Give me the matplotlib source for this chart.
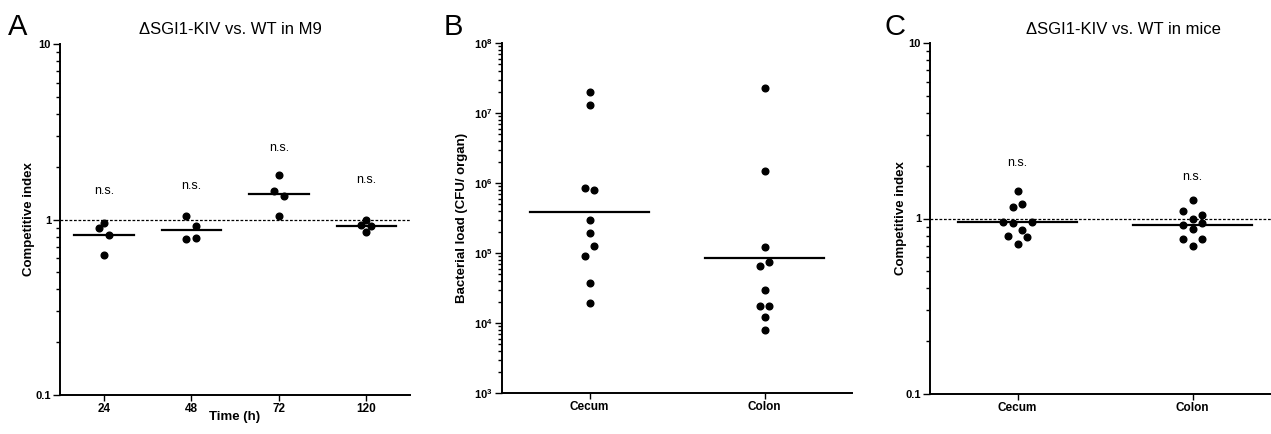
import numpy as np
import matplotlib
matplotlib.use("Agg")
import matplotlib.pyplot as plt
from matplotlib.ticker import FixedLocator, FixedFormatter, NullFormatter

plt.rcParams['font.family'] = ['Liberation Sans', 'DejaVu Sans']
plt.rcParams['mathtext.fontset'] = 'custom'
plt.rcParams['mathtext.rm'] = 'Liberation Sans'
plt.rcParams['mathtext.bf'] = 'Liberation Sans:bold'

W, H = 1271, 434

# --- panel A: competitive index in M9 ---
time_labels = ['24', '48', '72', '120']
ci_m9 = [
    [0.90, 0.96, 0.82, 0.63],
    [1.05, 0.92, 0.77, 0.78],
    [1.80, 1.46, 1.36, 1.05],
    [0.93, 0.99, 0.92, 0.85],
]
ns_m9 = [1.45, 1.56, 2.56, 1.68]

# --- panel B: bacterial load ---
organs = ['Cecum', 'Colon']
cfu_cecum = [2.0e7, 1.3e7, 8.4e5, 8.0e5, 3.0e5, 1.9e5, 1.25e5, 9.2e4, 3.7e4, 1.9e4]
cfu_colon = [2.3e7, 1.5e6, 1.2e5, 7.4e4, 6.5e4, 3.0e4, 1.75e4, 1.75e4, 1.2e4, 7.9e3]

# --- panel C: competitive index in mice ---
ci_mice_cecum = [1.43, 1.16, 1.21, 0.96, 0.94, 0.96, 0.86, 0.79, 0.78, 0.72]
ci_mice_colon = [1.27, 1.11, 1.05, 0.99, 0.92, 0.94, 0.87, 0.76, 0.76, 0.70]
ns_mice = [2.06, 1.73]

# side-by-side slots for overlapping dots (layout only)
slots_m9 = [[-1, 0, 1, 0], [-1, 1, -1, 1], [0, -1, 1, 0], [-1, 0, 1, 0]]
slots_cfu = [[0, 0, -1, 1, 0, 0, 1, -1, 0, 0], [0, 0, 0, 1, -1, 0, -1, 1, 0, 0]]
slots_mice = [[0, -1, 1, -3, -1, 3, 1, -2, 2, 0], [0, -2, 2, 0, -2, 2, 0, -2, 2, 0]]

SLOT_PX = 4.9
HALF = 0.34


def make_axes(left, top, width, height):
    ax = fig.add_axes([left / W, (H - top - height) / H, width / W, height / H])
    for s in ['top', 'right']:
        ax.spines[s].set_visible(False)
    for s in ['left', 'bottom']:
        ax.spines[s].set_linewidth(1.4)
    ax.set_yscale('log')
    ax.tick_params(axis='y', which='major', length=5, width=1.0, pad=1.5, labelsize=8)
    ax.tick_params(axis='y', which='minor', length=3, width=1.0)
    ax.tick_params(axis='x', which='major', length=4, width=1.0, pad=2, labelsize=8.5)
    ax.patch.set_alpha(0)
    return ax


def set_log_ticks(ax, lo, hi, labels):
    majors = [10.0 ** e for e in range(lo, hi + 1)]
    minors = [m * 10.0 ** e for e in range(lo, hi) for m in range(2, 10)]
    ax.yaxis.set_major_locator(FixedLocator(majors))
    ax.yaxis.set_major_formatter(FixedFormatter(labels))
    ax.yaxis.set_minor_locator(FixedLocator(minors))
    ax.yaxis.set_minor_formatter(NullFormatter())
    ax.set_ylim(majors[0], majors[-1])
    for t in ax.get_yticklabels():
        t.set_fontweight('bold')


def draw_group(ax, x, values, slots, units_per_px):
    vals = np.array(values)
    xs = x + np.array(slots) * SLOT_PX * units_per_px
    ax.plot(xs, vals, 'o', color='black', ms=4.8, mec='black', zorder=3)
    gm = np.exp(np.mean(np.log(vals)))
    ax.plot([x - HALF, x + HALF], [gm, gm], color='black', lw=1.6, zorder=2)


fig = plt.figure(figsize=(W / 100, H / 100), dpi=100)

# panel A
axA = make_axes(60, 44, 350, 351)
axA.set_xlim(-0.5, 3.5)
set_log_ticks(axA, -1, 1, ['0.1', '1', '10'])
upp = 4.0 / 350
for i in range(len(time_labels)):
    draw_group(axA, i, ci_m9[i], slots_m9[i], upp)
    axA.text(i, ns_m9[i], 'n.s.', ha='center', va='center', fontsize=9)
axA.axhline(1, color='black', lw=0.9, ls=(0, (2.2, 1.4)), zorder=1)
axA.set_xticks(range(len(time_labels)))
axA.set_xticklabels(time_labels, fontweight='bold')
axA.set_ylabel('Competitive index', fontsize=9.5, fontweight='bold')
axA.yaxis.set_label_coords(-0.072, 0.5)
axA.set_xlabel('Time (h)', fontsize=9.5, fontweight='bold')
axA.xaxis.set_label_coords(0.5, -0.045)

# panel B
axB = make_axes(502, 43, 350, 350)
axB.set_xlim(-0.5, 1.5)
set_log_ticks(axB, 3, 8, [r'$\mathbf{10^{%d}}$' % e for e in range(3, 9)])
upp = 2.0 / 350
draw_group(axB, 0, cfu_cecum, slots_cfu[0], upp)
draw_group(axB, 1, cfu_colon, slots_cfu[1], upp)
axB.set_xticks(range(len(organs)))
axB.set_xticklabels(organs, fontweight='bold')
axB.set_ylabel('Bacterial load (CFU/ organ)', fontsize=9.5, fontweight='bold')
axB.yaxis.set_label_coords(-0.097, 0.5)

# panel C
axC = make_axes(930, 43, 350, 351)
axC.set_xlim(-0.5, 1.5)
set_log_ticks(axC, -1, 1, ['0.1', '1', '10'])
draw_group(axC, 0, ci_mice_cecum, slots_mice[0], upp)
draw_group(axC, 1, ci_mice_colon, slots_mice[1], upp)
for i in range(len(organs)):
    axC.text(i, ns_mice[i], 'n.s.', ha='center', va='center', fontsize=9)
axC.axhline(1, color='black', lw=0.9, ls=(0, (2.2, 1.4)), zorder=1)
axC.set_xticks(range(len(organs)))
axC.set_xticklabels(organs, fontweight='bold')
axC.set_ylabel('Competitive index', fontsize=9.5, fontweight='bold')
axC.yaxis.set_label_coords(-0.066, 0.5)

# titles and panel letters
fig.text(230 / W, 1 - 29 / H, '\u0394SGI1-KIV vs. WT in M9', ha='center', va='center', fontsize=12)
fig.text(1123 / W, 1 - 29 / H, '\u0394SGI1-KIV vs. WT in mice', ha='center', va='center', fontsize=12)
for x, letter in [(8, 'A'), (444, 'B'), (884, 'C')]:
    fig.text(x / W, 1 - 27 / H, letter, ha='left', va='center', fontsize=21)

fig.savefig('out.png', dpi=100)
